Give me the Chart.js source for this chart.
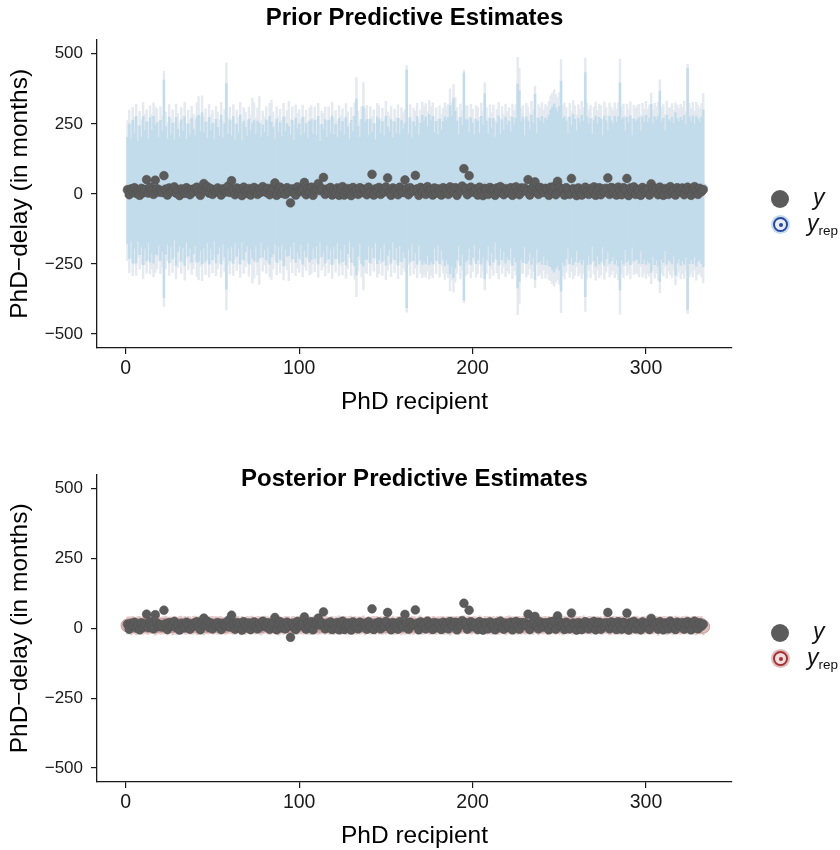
<!DOCTYPE html>
<html>
<head>
<meta charset="utf-8">
<script src="https://cdn.jsdelivr.net/npm/chart.js@4.4.1/dist/chart.umd.min.js"></script>
<style>
  body { margin: 0; background: #fff; font-family: "Liberation Sans", Arial, sans-serif; }
  #wrap { position: relative; width: 840px; height: 850px; overflow: hidden; }
  .pane { position: absolute; left: 0; }
  .dot { position: absolute; width: 18px; height: 18px; border-radius: 50%; background: #5b5b5b; }
  .rep { position: absolute; width: 11px; height: 11px; border-radius: 50%; border: 2.5px solid; }
  .rep::after { content: ""; position: absolute; left: 3.5px; top: 3.5px; width: 4px; height: 4px; border-radius: 50%; }
  .blue::after { background: #2a46a0; }
  .red::after { background: #a33232; }
  .lab { position: absolute; font-style: italic; font-size: 23px; color: #111; line-height: 1; }
  .lab sub { font-style: normal; font-size: 13.5px; vertical-align: -4px; }
</style>
</head>
<body>
<div id="wrap">
  <div class="pane" style="top:0"><canvas id="prior" width="840" height="425"></canvas></div>
  <div class="pane" style="top:434px"><canvas id="post" width="840" height="425"></canvas></div>

  <div class="dot" style="left:771px;top:190px"></div>
  <div class="lab" style="left:813px;top:186px">y</div>
  <div class="rep blue" style="left:773px;top:217px;border-color:#2a46a0;background:#e4ecf4;box-shadow:0 0 0 2px #c3dceb"></div>
  <div class="lab" style="left:807px;top:212px">y<sub>rep</sub></div>

  <div class="dot" style="left:771px;top:624px"></div>
  <div class="lab" style="left:813px;top:620px">y</div>
  <div class="rep red" style="left:773px;top:651px;border-color:#a33232;background:#f0dede;box-shadow:0 0 0 2px #dcbcbc"></div>
  <div class="lab" style="left:807px;top:646px">y<sub>rep</sub></div>
</div>
<script>
// PhD recipients 1..333
const recipient = Array.from({length: 333}, (_, i) => i + 1);

// observed PhD delay (months)
const delay = [
  15,-3,18,10,22,2,12,-5,20,4,16,51,3,24,10,-2,49,19,6,13,
  5,65,17,-4,21,8,12,25,3,14,-6,18,9,2,22,11,-3,16,7,20,
  24,7,-5,17,37,12,26,3,19,-2,15,9,21,6,-4,18,13,7,28,5,
  47,16,-3,21,6,18,-6,24,11,2,19,-4,14,23,9,-2,17,6,26,11,
  5,20,-3,13,21,39,-5,17,24,2,15,-2,22,8,-32,18,4,-4,25,10,
  9,16,41,-3,20,7,24,-5,14,19,37,12,20,59,-2,17,6,23,-4,15,
  2,21,-5,18,26,-4,9,19,12,-6,23,8,15,-2,22,5,17,11,-3,24,
  6,70,-4,18,12,23,-2,16,7,25,57,4,-5,21,11,17,-3,24,10,5,
  50,19,-3,22,9,14,66,18,-5,23,10,17,-2,26,9,15,-4,21,3,18,
  12,-4,22,6,17,-2,25,13,8,22,-5,19,11,28,90,20,-3,65,24,6,
  9,18,-4,24,8,-6,20,15,-2,23,11,17,-5,21,9,26,3,-3,19,12,
  4,22,-5,17,25,8,-3,21,13,21,9,51,-4,18,26,43,7,-2,23,14,
  5,20,18,-5,24,11,26,-3,45,24,9,17,-4,22,14,-2,55,19,13,-6,
  21,5,-4,17,24,10,-2,19,13,25,-5,16,22,-3,18,7,20,57,-2,23,
  6,19,-4,24,13,-3,22,17,55,-6,21,9,25,-2,16,12,-5,23,14,7,
  18,-4,36,21,11,20,-3,24,12,-5,19,15,-2,26,8,17,-4,22,13,8,
  21,-3,17,24,12,-5,19,26,11,-2,20,8,15
];

// prior predictive: median, half width of inner and outer interval
const priorMed = [
  12,9,14,8,11,15,10,13,7,12,16,9,11,14,8,15,15,18,10,13,
  9,18,12,8,14,11,10,15,9,13,7,12,16,10,11,14,8,13,9,12,
  15,20,10,20,13,8,12,11,16,9,14,10,12,8,15,11,13,27,9,12,
  10,14,8,13,11,15,9,12,16,10,8,14,11,12,13,9,12,15,10,11,
  14,8,13,15,12,9,11,16,10,13,8,12,14,10,11,15,9,13,12,10,
  14,11,8,13,12,9,15,10,16,11,13,8,12,14,9,11,15,10,13,12,
  9,14,11,12,8,15,10,13,12,9,16,11,24,10,13,8,27,12,15,11,
  10,14,12,9,13,15,11,8,14,12,10,13,9,15,11,12,8,14,10,13,
  12,18,9,14,11,10,15,12,13,8,14,11,12,9,15,10,13,12,11,14,
  9,13,12,10,14,11,15,10,20,15,12,13,9,14,27,11,15,12,10,13,
  14,9,12,11,13,10,27,12,14,8,11,13,15,10,12,9,14,11,13,10,
  12,15,9,11,14,28,28,12,15,10,13,11,9,14,12,25,10,13,11,12,
  14,9,13,12,20,20,21,20,19,20,28,12,10,14,11,13,9,15,12,11,
  13,10,14,12,33,11,15,9,13,12,10,14,11,13,9,12,15,10,14,11,
  12,13,10,9,26,14,11,12,15,10,13,9,14,11,15,12,10,13,11,14,
  9,12,20,13,11,14,10,27,12,13,11,15,15,10,12,14,0,11,13,9,
  12,14,10,18,13,11,15,12,10,14,11,13,20
];
const priorIn = [
  190,240,182,255,205,262,178,230,196,265,210,248,185,258,220,262,230,236,192,250,
  215,388,228,188,260,200,242,178,264,218,194,252,208,266,184,236,202,258,222,196,
  260,260,212,270,205,248,186,262,210,244,180,256,226,198,266,190,238,367,204,250,
  198,262,184,236,206,266,180,248,222,196,258,210,240,250,200,252,240,188,236,210,
  250,198,264,240,226,186,256,204,244,192,266,210,236,230,200,248,182,258,220,240,
  194,262,210,238,186,252,250,204,246,198,264,180,236,218,256,192,248,206,266,200,
  240,188,258,210,250,196,264,226,182,254,206,266,314,232,190,258,285,244,250,198,
  256,206,240,184,262,250,204,250,192,266,230,210,256,186,246,204,262,198,252,220,
  240,424,206,258,190,248,226,264,196,244,266,250,262,230,268,252,264,206,248,196,
  258,214,246,266,250,262,300,268,320,280,248,200,264,230,405,254,250,206,262,240,
  196,258,248,206,264,236,330,248,200,262,222,256,188,244,266,204,250,216,260,236,
  248,206,264,236,256,364,340,246,260,198,262,250,220,266,240,330,206,258,248,264,
  236,262,250,268,280,290,300,285,276,292,375,256,266,246,204,262,236,268,254,214,
  258,244,266,246,400,264,236,260,200,250,268,236,262,254,198,266,246,214,262,250,
  236,264,246,266,370,250,262,212,258,244,266,200,254,246,250,260,214,262,244,266,
  246,258,300,236,264,250,268,340,246,258,214,266,250,250,262,236,290,258,244,264,
  250,266,236,430,262,246,264,236,268,254,246,262,280
];
const priorOut = [
  250,290,240,300,262,305,236,282,258,315,268,292,246,300,275,310,295,286,250,298,
  270,420,280,246,305,256,290,240,312,275,250,296,262,318,240,285,258,300,276,252,
  310,327,268,330,262,296,245,308,266,290,238,302,280,256,312,248,290,440,262,298,
  256,305,242,286,262,312,240,296,276,252,302,266,330,312,258,298,335,246,286,264,
  298,254,310,320,280,244,300,262,292,250,315,266,284,320,256,296,240,305,276,290,
  252,306,266,286,244,298,300,260,294,256,310,238,284,274,302,250,296,262,315,258,
  288,246,304,266,296,254,312,280,240,300,262,315,391,286,248,304,370,292,300,256,
  302,262,288,242,310,300,260,298,250,318,282,266,304,244,292,260,310,256,298,276,
  288,440,262,305,248,296,280,312,254,292,314,300,310,284,318,300,312,262,296,254,
  306,270,294,315,298,310,360,316,370,330,296,258,312,284,415,302,300,262,310,290,
  254,306,296,262,312,286,370,296,258,310,278,304,246,292,315,260,298,272,308,284,
  296,262,312,286,304,459,420,294,300,256,310,298,276,316,288,360,262,306,296,314,
  286,310,298,318,330,340,350,335,326,342,452,304,314,294,262,310,286,318,302,270,
  306,292,316,296,452,312,286,308,258,298,318,284,310,302,256,316,294,270,310,298,
  286,312,294,316,455,298,310,268,306,292,316,258,302,294,300,308,270,310,292,316,
  294,306,340,286,312,298,318,380,294,306,270,316,290,298,310,284,325,306,292,312,
  298,316,284,445,310,294,312,284,318,302,294,310,338
];

// posterior predictive: median, half width of inner and outer interval
const postMed = [
  10,11,9,12,10,8,11,13,9,10,12,11,9,10,13,11,8,10,12,9,
  11,10,13,9,10,12,8,11,10,9,12,13,10,11,9,12,10,8,11,13,
  9,10,12,11,8,13,10,9,12,11,10,13,9,12,10,11,8,10,13,12,
  11,9,10,12,13,8,11,10,9,12,11,10,13,9,10,12,11,8,10,13,
  12,10,9,11,13,10,12,8,11,10,9,12,13,10,8,11,12,9,10,11,
  13,10,12,9,11,10,8,12,13,11,10,9,12,11,10,13,9,10,12,8,
  11,10,13,9,12,11,10,8,12,13,10,11,9,12,10,11,13,8,10,12,
  9,11,12,10,13,8,11,10,12,9,13,11,10,12,8,10,11,13,9,12,
  10,11,13,9,12,10,11,8,12,13,9,10,11,12,10,8,13,11,9,12,
  10,12,11,9,13,10,8,12,11,10,13,9,12,11,14,10,12,13,9,11,
  12,10,9,13,11,8,12,10,11,13,9,12,10,11,8,13,12,10,9,11,
  13,10,12,9,11,10,13,8,12,11,10,14,9,12,10,13,11,8,12,10,
  11,13,9,12,10,11,13,8,12,10,11,9,13,12,10,11,14,9,12,10,
  11,12,9,13,10,8,12,11,10,13,9,12,11,10,8,13,12,11,9,10,
  12,10,13,9,11,10,12,8,13,11,10,9,12,13,10,11,8,12,10,11,
  13,9,12,10,11,12,8,13,10,11,12,9,10,13,11,8,12,10,11,9,
  12,10,13,11,9,12,10,11,8,13,10,12,6
];
const postIn = [
  14,13,14,15,13,14,14,13,15,14,13,14,15,14,13,14,14,15,13,14,
  13,14,15,14,14,13,14,15,13,14,14,13,14,15,14,13,15,14,14,13,
  15,14,13,14,14,15,13,14,14,13,15,14,13,14,15,14,13,14,15,14,
  14,13,14,15,13,14,14,13,15,14,13,14,15,14,13,14,14,15,13,14,
  13,14,15,14,14,13,14,15,13,14,14,13,14,15,14,13,15,14,14,13,
  15,14,13,14,14,15,13,14,14,13,15,14,13,14,15,14,13,14,15,14,
  14,13,14,15,13,14,14,13,15,14,13,14,15,14,13,14,14,15,13,14,
  13,14,15,14,14,13,14,15,13,14,14,13,14,15,14,13,15,14,14,13,
  15,14,13,14,14,15,13,14,14,13,15,14,13,14,15,14,13,14,15,14,
  14,13,14,15,13,14,14,13,15,14,13,14,15,14,13,14,14,15,13,14,
  13,14,15,14,14,13,14,15,13,14,14,13,14,15,14,13,15,14,14,13,
  15,14,13,14,14,15,13,14,14,13,15,14,13,14,15,14,13,14,15,14,
  14,13,14,15,13,14,14,13,15,14,13,14,15,14,13,14,14,15,13,14,
  13,14,15,14,14,13,14,15,13,14,14,13,14,15,14,13,15,14,14,13,
  15,14,13,14,14,15,13,14,14,13,15,14,13,14,15,14,13,14,15,14,
  14,13,14,15,13,14,14,13,15,14,13,14,15,14,13,14,14,15,13,14,
  13,14,15,14,14,13,14,15,13,14,14,13,14
];
const postOut = [
  31,30,32,31,29,31,32,30,31,31,30,32,31,29,31,30,32,31,30,31,
  30,31,31,32,30,29,31,32,31,30,31,31,29,32,30,31,31,30,32,31,
  32,31,30,31,31,32,30,29,31,32,31,30,31,31,32,29,30,31,31,30,
  31,30,32,31,29,31,32,30,31,31,30,32,31,29,31,30,32,31,30,31,
  30,31,31,32,30,29,31,32,31,30,31,31,29,32,30,31,31,30,32,31,
  32,31,30,31,31,32,30,29,31,32,31,30,31,31,32,29,30,31,31,30,
  31,30,32,31,29,31,32,30,31,31,30,32,31,29,31,30,32,31,30,31,
  30,31,31,32,30,29,31,32,31,30,31,31,29,32,30,31,31,30,32,31,
  32,31,30,31,31,32,30,29,31,32,31,30,31,31,32,29,30,31,31,30,
  31,30,32,31,29,31,32,30,31,31,30,32,31,29,31,30,32,31,30,31,
  30,31,31,32,30,29,31,32,31,30,31,31,29,32,30,31,31,30,32,31,
  32,31,30,31,31,32,30,29,31,32,31,30,31,31,32,29,30,31,31,30,
  31,30,32,31,29,31,32,30,31,31,30,32,31,29,31,30,32,31,30,31,
  30,31,31,32,30,29,31,32,31,30,31,31,29,32,30,31,31,30,32,31,
  32,31,30,31,31,32,30,29,31,32,31,30,31,31,32,29,30,31,31,30,
  31,30,32,31,29,31,32,30,31,31,30,32,31,29,31,30,32,31,30,31,
  30,31,31,32,30,29,31,32,31,30,31,31,29
];

const yTicks = [-500, -250, 0, 250, 500];
const xTicks = [0, 100, 200, 300];

Chart.defaults.font.family = '"Liberation Sans", Arial, sans-serif';

function band(med, half) {
  return recipient.map((r, i) => ({x: r, y: [med[i] - half[i], med[i] + half[i]]}));
}
function pts(vals) {
  return recipient.map((r, i) => ({x: r, y: vals[i]}));
}
const minus = v => (v < 0 ? '\u2212' + Math.abs(v) : String(v));

function makeChart(id, title, med, inner, outer, col, titlePad) {
  return new Chart(document.getElementById(id), {
    type: 'bar',
    data: {
      datasets: [
        {label: 'outer', data: band(med, outer), backgroundColor: col.outer, barThickness: 1.8, grouped: false, order: 4},
        {label: 'inner', data: band(med, inner), backgroundColor: col.inner, barThickness: 1.8, grouped: false, order: 3},
        {type: 'scatter', label: 'yrep', data: pts(med), order: 2,
         pointRadius: col.r, pointBackgroundColor: col.fill, pointBorderColor: col.ring, pointBorderWidth: 1},
        {type: 'scatter', label: 'y', data: pts(delay), order: 1,
         pointRadius: 4.4, pointBackgroundColor: '#5b5b5b', pointBorderColor: '#505050', pointBorderWidth: 0.5}
      ]
    },
    options: {
      responsive: false,
      animation: false,
      events: [],
      layout: {padding: {left: 0, right: 108, top: 0, bottom: 6}},
      plugins: {
        legend: {display: false},
        tooltip: {enabled: false},
        title: {display: true, text: title, fullSize: false, color: '#000',
                font: {size: 24, weight: 'bold'}, padding: titlePad}
      },
      scales: {
        x: {
          type: 'linear', min: -16.6, max: 349.6, offset: false,
          afterBuildTicks: s => { s.ticks = xTicks.map(v => ({value: v})); },
          ticks: {color: '#1a1a1a', font: {size: 19.5}, padding: 3, maxRotation: 0},
          grid: {offset: false, drawOnChartArea: false, drawTicks: true, tickLength: 6, color: '#1a1a1a', lineWidth: 1.2},
          border: {display: true, color: '#1a1a1a', width: 1.3},
          title: {display: true, text: 'PhD recipient', color: '#000', font: {size: 24.5}, padding: {top: 0, bottom: 2}},
          afterFit: s => { s.height = 71; }
        },
        y: {
          min: -550, max: 550,
          afterBuildTicks: s => { s.ticks = yTicks.map(v => ({value: v})); },
          ticks: {color: '#1a1a1a', font: {size: 17}, padding: 8, callback: minus},
          grid: {offset: false, drawOnChartArea: false, drawTicks: true, tickLength: 6, color: '#1a1a1a', lineWidth: 1.2},
          border: {display: true, color: '#1a1a1a', width: 1.3},
          title: {display: true, text: 'PhD\u2212delay (in months)', color: '#000', font: {size: 24.5}, padding: {top: 6, bottom: 0}},
          afterFit: s => { s.width = 97; }
        }
      }
    }
  });
}

makeChart('prior', 'Prior Predictive Estimates', priorMed, priorIn, priorOut,
  {outer: '#e4eaf0', inner: '#c3dceb', fill: '#c3dceb', ring: '#b8d3e6', r: 4.5}, {top: 4, bottom: 7});
makeChart('post', 'Posterior Predictive Estimates', postMed, postIn, postOut,
  {outer: '#e6cdcd', inner: '#dcbcbc', fill: '#dcbcbc', ring: '#c99c9c', r: 6.5}, {top: 31, bottom: -19});
</script>
</body>
</html>
